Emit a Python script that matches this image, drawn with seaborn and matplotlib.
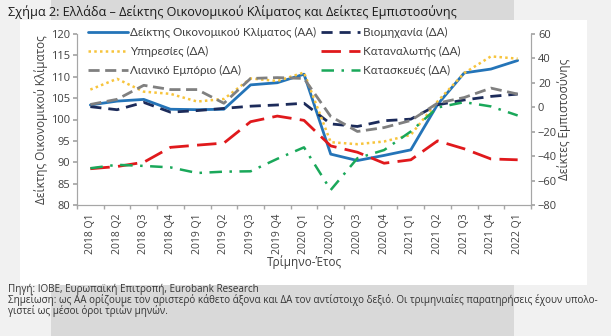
import matplotlib
matplotlib.use("Agg")
import matplotlib.pyplot as plt
import seaborn as sns
import numpy as np
import pandas as pd
from matplotlib.patches import Rectangle

quarters = ["2018 Q1", "2018 Q2", "2018 Q3", "2018 Q4", "2019 Q1", "2019 Q2", "2019 Q3", "2019 Q4",
            "2020 Q1", "2020 Q2", "2020 Q3", "2020 Q4", "2021 Q1", "2021 Q2", "2021 Q3", "2021 Q4", "2022 Q1"]

# Left axis (ΑΑ)
climate = [103.4, 104.3, 104.7, 102.4, 102.3, 102.4, 108.1, 108.6, 110.6,
           91.9, 90.4, 91.6, 92.9, 103.5, 110.9, 111.8, 113.8]
# Right axis (ΔΑ)
industry = [0.5, -2.0, 4.0, -4.0, -2.7, -0.9, 0.9, 1.9, 3.3,
            -13.6, -15.7, -11.0, -9.7, 2.0, 6.0, 8.9, 10.8]
services = [14.5, 23.3, 12.8, 11.0, 4.7, 6.8, 23.6, 21.5, 28.5,
            -28.6, -30.2, -28.0, -22.6, 4.8, 28.0, 41.7, 39.8]
consumer = [-50.3, -48.5, -45.0, -32.8, -31.0, -29.3, -11.8, -7.2, -10.7,
            -31.6, -36.8, -45.8, -43.0, -27.5, -34.0, -42.3, -43.0]
retail = [2.3, 6.5, 18.0, 14.5, 14.5, 3.3, 23.6, 24.3, 23.6,
          -7.5, -19.8, -16.6, -10.8, 3.4, 8.0, 15.7, 10.8]
construction = [-49.9, -47.1, -48.0, -49.2, -53.8, -52.7, -52.4, -42.2, -32.8,
                -67.7, -41.7, -35.0, -19.8, -0.2, 4.2, 0.7, -6.7]

labels = {
    "climate": "Δείκτης Οικονομικού Κλίματος (ΑΑ)",
    "industry": "Βιομηχανία (ΔΑ)",
    "services": "Υπηρεσίες (ΔΑ)",
    "consumer": "Καταναλωτής (ΔΑ)",
    "retail": "Λιανικό Εμπόριο (ΔΑ)",
    "construction": "Κατασκευές (ΔΑ)",
}

sns.set_theme(style="white")
plt.rcParams['font.family'] = ['Open Sans', 'DejaVu Sans']
txt = "#404040"
spine_c = "#a6a6a6"

fig = plt.figure(figsize=(6.11, 3.36), dpi=100)
fig.patch.set_facecolor("#f1f1f1")
W, H = 611, 336
def R(x0, y0, x1, y1, c, z):
    fig.patches.append(Rectangle((x0 / W, 1 - y1 / H), (x1 - x0) / W, (y1 - y0) / H,
                                 transform=fig.transFigure, facecolor=c, edgecolor="none", zorder=z))
R(51, 0, 514, 22, "#d9d9d9", -3)
R(51, 285, 514, 336, "#d9d9d9", -3)
R(20, 20, 587, 285, "white", -2)

ax = fig.add_axes([77 / W, 1 - 205 / H, (531 - 77) / W, (205 - 34) / H])
ax.set_facecolor("none")
ax2 = ax.twinx()

x = np.arange(len(quarters))
df = pd.DataFrame({"x": x, "climate": climate, "industry": industry, "services": services,
                   "consumer": consumer, "retail": retail, "construction": construction})

sns.lineplot(data=df, x="x", y="climate", ax=ax, color="#2474b8", lw=2.0, label=labels["climate"], legend=False)
sns.lineplot(data=df, x="x", y="industry", ax=ax2, color="#1c2b5a", lw=2.0,
             linestyle=(0, (4, 2.5)), label=labels["industry"], legend=False)
sns.lineplot(data=df, x="x", y="services", ax=ax2, color="#f7c43c", lw=1.8,
             linestyle=(0, (1, 1.3)), label=labels["services"], legend=False)
sns.lineplot(data=df, x="x", y="consumer", ax=ax2, color="#e0191c", lw=2.0,
             linestyle=(0, (7, 3)), label=labels["consumer"], legend=False)
sns.lineplot(data=df, x="x", y="retail", ax=ax2, color="#808080", lw=2.0,
             linestyle=(0, (4, 2)), label=labels["retail"], legend=False)
sns.lineplot(data=df, x="x", y="construction", ax=ax2, color="#1aa85a", lw=1.8,
             linestyle=(0, (5, 3, 1, 3)), label=labels["construction"], legend=False)

ax.set_xlim(-0.5, len(quarters) - 0.5)
ax.set_ylim(80, 120)
ax2.set_ylim(-80, 60)
ax.set_yticks(np.arange(80, 121, 5))
ax2.set_yticks(np.arange(-80, 61, 20))
ax.set_xticks(x)
ax.set_xticklabels(quarters, rotation=90, fontsize=7.5, color=txt)
ax.set_xticks(np.arange(-0.5, len(quarters), 1), minor=True)
ax.tick_params(axis="x", which="major", length=0, pad=6)
ax.tick_params(axis="x", which="minor", length=3, color=spine_c, direction="out", bottom=True)
ax.tick_params(axis="y", labelsize=8, colors=txt, length=3, color=spine_c, left=True, pad=2)
ax2.tick_params(axis="y", labelsize=8, colors=txt, length=3, color=spine_c, right=True, pad=2)

for a in (ax, ax2):
    a.spines["top"].set_visible(False)
    for s in ("left", "right", "bottom"):
        a.spines[s].set_color(spine_c)
        a.spines[s].set_linewidth(0.8)
    a.grid(False)

ax.set_xlabel("Τρίμηνο-Έτος", fontsize=8.5, color=txt, labelpad=1)
ax.set_ylabel("Δείκτης Οικονομικού Κλίματος", fontsize=8.5, color=txt, labelpad=2)
ax2.set_ylabel("Δείκτες Εμπιστοσύνης", fontsize=8.5, color=txt, rotation=90, labelpad=0)

h1, l1 = ax.get_legend_handles_labels()
h2, l2 = ax2.get_legend_handles_labels()
hd = dict(zip(l1 + l2, h1 + h2))
order = ["climate", "services", "retail", "industry", "consumer", "construction"]
leg = fig.legend([hd[labels[k]] for k in order], [labels[k] for k in order],
                 loc="upper left", bbox_to_anchor=(88 / W, 1 - 27 / H), ncol=2, frameon=False,
                 prop={"family": ["Lato", "DejaVu Sans"], "size": 8.4},
                 handlelength=3.4, handletextpad=0.2, columnspacing=0.4,
                 labelspacing=0.7, borderpad=0, borderaxespad=0)
for t in leg.get_texts():
    t.set_color(txt)

fig.text(8 / W, 1 - 12 / H, "Σχήμα 2: Ελλάδα – Δείκτης Οικονομικού Κλίματος και Δείκτες Εμπιστοσύνης",
         fontsize=9.1, color="#1a1a1a", va="center", ha="left")
fn = dict(fontsize=7.1, color="#333333", va="center", ha="left")
fig.text(8 / W, 1 - 289 / H, "Πηγή: ΙΟΒΕ, Ευρωπαϊκή Επιτροπή, Eurobank Research", **fn)
fig.text(8 / W, 1 - 300 / H, "Σημείωση: ως ΑΑ ορίζουμε τον αριστερό κάθετο άξονα και ΔΑ τον αντίστοιχο δεξιό. Οι τριμηνιαίες παρατηρήσεις έχουν υπολο-", **fn)
fig.text(8 / W, 1 - 311 / H, "γιστεί ως μέσοι όροι τριών μηνών.", **fn)

fig.savefig("out.png", dpi=100, facecolor=fig.get_facecolor())
